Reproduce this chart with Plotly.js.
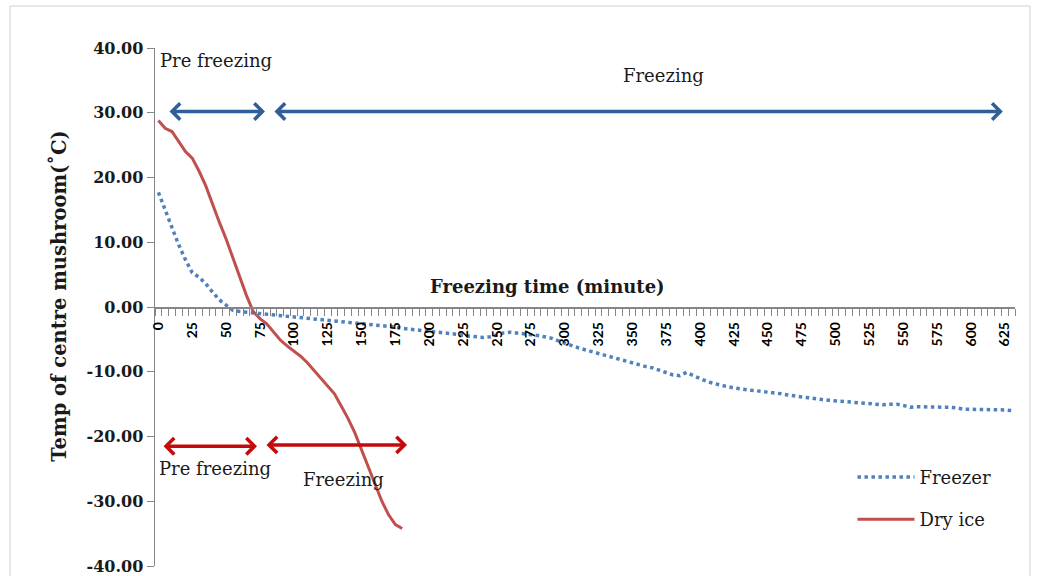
<!DOCTYPE html>
<html>
<head>
<meta charset="utf-8">
<script src="https://cdn.plot.ly/plotly-3.0.1.min.js"></script>
<style>html,body{margin:0;padding:0;background:#fff;}#chart{width:1038px;height:576px;}</style>
</head>
<body>
<div id="chart"></div>
<script>
// Time step between readings (minutes)
const timeStep = 5;

// Freezer: temperature at the centre of the mushroom (°C), every 5 min from 0 to 630
const freezerTemp = [
  17.7, 15.0, 12.0, 9.6, 7.3, 5.3, 4.6, 3.6, 2.3, 1.1,
  0.3, -0.5, -0.7, -0.8, -0.9, -1.0, -1.2, -1.3, -1.4, -1.5,
  -1.6, -1.7, -1.8, -1.9, -1.9, -2.0, -2.1, -2.2, -2.4, -2.5,
  -2.6, -2.7, -2.8, -2.9, -3.0, -3.1, -3.3, -3.4, -3.6, -3.6,
  -3.7, -3.8, -4.0, -4.1, -4.2, -4.4, -4.5, -4.6, -4.7, -4.6,
  -4.3, -4.0, -3.9, -4.0, -4.1, -4.2, -4.4, -4.6, -4.8, -5.2,
  -5.6, -5.9, -6.3, -6.6, -6.9, -7.1, -7.5, -7.8, -8.1, -8.4,
  -8.7, -9.0, -9.2, -9.4, -9.8, -10.2, -10.5, -10.6, -10.1, -10.6,
  -11.1, -11.5, -11.8, -12.1, -12.3, -12.5, -12.7, -12.8, -12.9, -13.0,
  -13.2, -13.3, -13.4, -13.6, -13.8, -13.9, -14.0, -14.2, -14.3, -14.4,
  -14.5, -14.6, -14.6, -14.7, -14.9, -15.0, -15.1, -15.1, -15.0, -15.0,
  -15.2, -15.5, -15.4, -15.4, -15.4, -15.4, -15.5, -15.5, -15.6, -15.8,
  -15.8, -15.8, -15.8, -15.9, -15.9, -15.9, -16.0
];

// Dry ice: temperature at the centre of the mushroom (°C), every 5 min from 0 to 180
const dryIceTemp = [
  28.8, 27.6, 27.1, 25.6, 24.0, 23.0, 21.0, 18.7, 15.8, 13.1,
  10.5, 7.5, 4.6, 1.8, -0.7, -1.8, -2.6, -3.9, -5.1, -6.0,
  -6.8, -7.6, -8.6, -9.8, -10.9, -12.1, -13.4, -15.3, -17.2, -19.4,
  -22.0, -24.6, -27.4, -30.0, -32.1, -33.6, -34.2
];

const seriesNames = ["Freezer", "Dry ice"];
const xTickValues = [0,25,50,75,100,125,150,175,200,225,250,275,300,325,350,375,400,425,450,475,500,525,550,575,600,625];
const yTickValues = [-40,-30,-20,-10,0,10,20,30,40];
const xAxisTitle = "Freezing time (minute)";
const yAxisTitle = "Temp of centre mushroom(˚C)";
const phaseLabels = ["Pre freezing", "Freezing"];

const freezerTime = freezerTemp.map((_, i) => i * timeStep);
const dryIceTime = dryIceTemp.map((_, i) => i * timeStep);

const serif = "DejaVu Serif";
const blueArrow = "#2F5E98";
const redArrow = "#C40A0A";

function dblArrow(x0, x1, y, color) {
  return {
    x: x1, y: y, ax: x0, ay: y, xref: "x", yref: "y", axref: "x", ayref: "y",
    text: "", showarrow: true, arrowside: "end+start",
    arrowhead: 4, startarrowhead: 4, arrowsize: 0.9, startarrowsize: 0.9,
    arrowwidth: 3.5, arrowcolor: color, standoff: 0, startstandoff: 0
  };
}
function label(text, x, y) {
  return {x: x, y: y, xref: "x", yref: "y", text: text, showarrow: false,
    font: {family: serif, size: 18, color: "#1a1a1a"}, xanchor: "center", yanchor: "middle"};
}

const traces = [
  {x: freezerTime, y: freezerTemp, name: seriesNames[0], type: "scatter", mode: "lines",
   line: {color: "#4F81BD", width: 3.5, dash: "3.5px,3.5px"}, legendgroup: "a"},
  {x: dryIceTime, y: dryIceTemp, name: seriesNames[1], type: "scatter", mode: "lines",
   line: {color: "#C0504D", width: 3}, legendgroup: "b"}
];

const layout = {
  width: 1038, height: 576,
  margin: {l: 155, r: 23, t: 48, b: 10},
  paper_bgcolor: "#fff", plot_bgcolor: "rgba(0,0,0,0)",
  showlegend: true,
  legend: {x: 0.811, xanchor: "left", y: 0.207, yanchor: "top", traceorder: "grouped", itemwidth: 57,
    tracegroupgap: 16, font: {family: serif, size: 18, color: "#1a1a1a"}, bgcolor: "rgba(0,0,0,0)"},
  xaxis: {
    range: [-2.5, 632.5], anchor: "free", position: 0.5,
    tickmode: "array", tickvals: xTickValues, ticktext: xTickValues.map(String),
    tickangle: -90, ticks: "outside", ticklen: 8, tickcolor: "rgba(0,0,0,0)",
    tickfont: {family: "Lato", size: 14, color: "#000", weight: "bold"},
    minor: {tick0: 2.5, dtick: 5, ticks: "outside", ticklen: 7, tickcolor: "#868686", tickwidth: 1},
    showline: true, linecolor: "#868686", linewidth: 1.5,
    showgrid: false, zeroline: false
  },
  yaxis: {
    range: [-40, 40], tickmode: "array", tickvals: yTickValues, ticktext: yTickValues.map(v => v.toFixed(2)),
    ticks: "outside", ticklen: 7, tickcolor: "#868686",
    tickfont: {family: serif, size: 16, color: "#1a1a1a", weight: "bold"},
    showline: true, linecolor: "#868686", linewidth: 1.5,
    showgrid: false, zeroline: false
  },
  annotations: [
    {x: -0.1116, y: 0.52, xref: "paper", yref: "paper", text: yAxisTitle, textangle: -90, showarrow: false,
     font: {family: serif, size: 19.5, color: "#1a1a1a", weight: "bold"}, xanchor: "center", yanchor: "middle"},
    {x: 287, y: 3.1, xref: "x", yref: "y", text: xAxisTitle, showarrow: false,
     font: {family: serif, size: 18, color: "#1a1a1a", weight: "bold"}, xanchor: "center", yanchor: "middle"},
    label(phaseLabels[0], 42.5, 38.1),
    label(phaseLabels[1], 373, 35.7),
    label(phaseLabels[0], 41.8, -25.0),
    label(phaseLabels[1], 136.7, -26.7),
    dblArrow(7.1, 78.7, 30.2, blueArrow),
    dblArrow(84.6, 623.5, 30.2, blueArrow),
    dblArrow(2.7, 72.8, -21.5, redArrow),
    dblArrow(78.7, 183.6, -21.3, redArrow)
  ],
  shapes: [
    {type: "rect", xref: "paper", yref: "paper", x0: -0.1686, x1: 1.0174, y0: -0.2, y1: 1.081,
     line: {color: "#d0d0d0", width: 1}, fillcolor: "rgba(0,0,0,0)"}
  ]
};

Plotly.newPlot("chart", traces, layout, {displayModeBar: false, staticPlot: true});
</script>
</body>
</html>
